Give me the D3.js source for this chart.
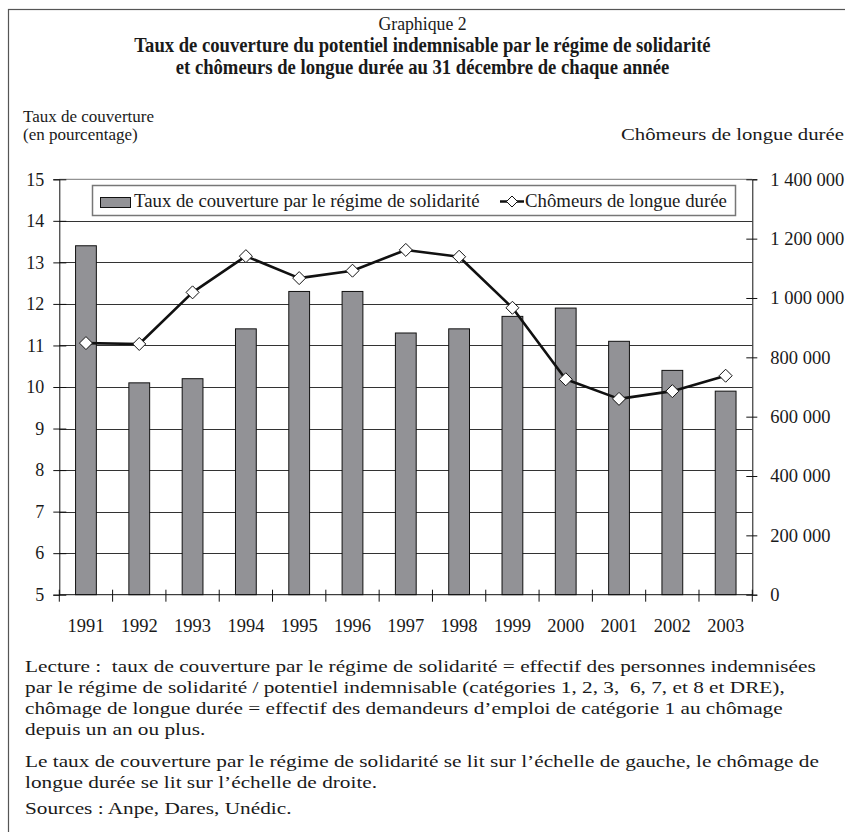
<!DOCTYPE html>
<html>
<head>
<meta charset="utf-8">
<script src="https://cdn.jsdelivr.net/npm/d3@7"></script>
<style>
  html, body { margin: 0; padding: 0; background: #fff; }
  svg { display: block; font-family: "Liberation Serif", "Times New Roman", serif; }
  text { font-family: "Liberation Serif", "Times New Roman", serif; fill: #1a1a1a; }
</style>
</head>
<body>
<svg id="chart" width="845" height="832" font-family="Liberation Serif, serif"></svg>
<script>
const years = ["1991","1992","1993","1994","1995","1996","1997","1998","1999","2000","2001","2002","2003"];
const tauxCouverture = [13.4, 10.1, 10.2, 11.4, 12.3, 12.3, 11.3, 11.4, 11.7, 11.9, 11.1, 10.4, 9.9];
const chomeursLongueDuree = [848000, 845000, 1019000, 1141000, 1067000, 1092000, 1162000, 1139000, 967000, 726000, 660000, 686000, 738000];
const leftTicks = [5, 6, 7, 8, 9, 10, 11, 12, 13, 14, 15];
const rightTicks = [0, 200000, 400000, 600000, 800000, 1000000, 1200000, 1400000];
const titleTop = "Graphique 2";
const titleLines = ["Taux de couverture du potentiel indemnisable par le régime de solidarité",
                    "et chômeurs de longue durée au 31 décembre de chaque année"];
const leftAxisTitle = ["Taux de couverture", "(en pourcentage)"];
const rightAxisTitle = "Chômeurs de longue durée";
const legendLabels = ["Taux de couverture par le régime de solidarité", "Chômeurs de longue durée"];
const notes = [
  "Lecture :  taux de couverture par le régime de solidarité = effectif des personnes indemnisées",
  "par le régime de solidarité / potentiel indemnisable (catégories 1, 2, 3,  6, 7, et 8 et DRE),",
  "chômage de longue durée = effectif des demandeurs d’emploi de catégorie 1 au chômage",
  "depuis un an ou plus.",
  "Le taux de couverture par le régime de solidarité se lit sur l’échelle de gauche, le chômage de",
  "longue durée se lit sur l’échelle de droite.",
  "Sources : Anpe, Dares, Unédic."
];

const FONT = "Liberation Serif, Times New Roman, serif";
const svg = d3.select("#chart");
const W = 845;
const txt = (sel) => sel.attr("font-family", FONT).attr("fill", "#1a1a1a");

// outer frame (right & bottom edges fall outside the picture)
svg.append("rect").attr("x", 8.5).attr("y", 9.5).attr("width", 900).attr("height", 900)
  .attr("fill", "none").attr("stroke", "#555").attr("stroke-width", 1.2);

// titles (slightly condensed glyphs, as in the reference)
const tg = svg.append("g").attr("transform", `translate(${W/2},0) scale(0.91,1)`);
tg.append("text").attr("x", 0).attr("y", 30).attr("text-anchor", "middle")
  .attr("font-size", 19.5).call(txt).text(titleTop);
titleLines.forEach((t, i) => {
  tg.append("text").attr("x", 0).attr("y", 52 + i*22).attr("text-anchor", "middle")
    .attr("font-size", 20.5).attr("font-weight", "bold").call(txt).text(t);
});

// axis titles
leftAxisTitle.forEach((t, i) => {
  svg.append("text").attr("x", 23).attr("y", 122 + i*18).attr("font-size", 17).call(txt).text(t);
});
svg.append("g").attr("transform", "translate(621,0) scale(1.2,1)")
  .append("text").attr("x", 0).attr("y", 140).attr("font-size", 17.3).call(txt).text(rightAxisTitle);

// scales
const x0 = 59.3, x1 = 752.3, yTop = 179.3, yBot = 594.7;
const x = d3.scaleBand().domain(years).range([x0, x1]).padding(0);
const yL = d3.scaleLinear().domain([5, 15]).range([yBot, yTop]);
const yR = d3.scaleLinear().domain([0, 1400000]).range([yBot, yTop]);

const g = svg.append("g");

// top border of plot
g.append("line").attr("x1", x0).attr("x2", x1).attr("y1", yTop).attr("y2", yTop)
  .attr("stroke", "#777").attr("stroke-width", 1);

// gridlines
g.selectAll("line.grid").data(leftTicks.filter(d => d > 5 && d < 15)).join("line")
  .attr("class", "grid")
  .attr("x1", x0).attr("x2", x1)
  .attr("y1", d => Math.round(yL(d)) + 0.5).attr("y2", d => Math.round(yL(d)) + 0.5)
  .attr("stroke", "#333").attr("stroke-width", 1);

// bars
const bw = x.bandwidth() * 0.39;
g.selectAll("rect.bar").data(years).join("rect")
  .attr("class", "bar")
  .attr("x", (d) => x(d) + (x.bandwidth() - bw) / 2)
  .attr("y", (d, i) => yL(tauxCouverture[i]))
  .attr("width", bw)
  .attr("height", (d, i) => yBot - yL(tauxCouverture[i]))
  .attr("fill", "#929296").attr("stroke", "#111").attr("stroke-width", 1);

// left axis
const leftAxis = d3.axisLeft(yL).tickValues(leftTicks).tickSize(6).tickPadding(9).tickFormat(d3.format("d"));
const la = g.append("g").attr("transform", `translate(${x0},0)`).call(leftAxis).attr("font-family", FONT);
la.select(".domain").attr("stroke", "#111");
la.selectAll(".tick line").attr("x2", -6).attr("x1", 7).attr("stroke", "#111");
la.selectAll(".tick text").attr("font-size", 18).call(txt).attr("x", -15);

// right axis
const fmtSpace = d => d3.format(",")(d).replace(/,/g, " ");
const rightAxis = d3.axisRight(yR).tickValues(rightTicks).tickSize(5).tickFormat(fmtSpace);
const ra = g.append("g").attr("transform", `translate(${x1},0)`).call(rightAxis).attr("font-family", FONT);
ra.select(".domain").attr("stroke", "#111");
ra.selectAll(".tick line").attr("x1", -6).attr("x2", 5).attr("stroke", "#111");
ra.selectAll(".tick text").attr("font-size", 18.5).call(txt).attr("x", 18);

// bottom axis
const bottomAxis = d3.axisBottom(x).tickSize(0).tickPadding(0);
const ba = g.append("g").attr("transform", `translate(0,${yBot})`).call(bottomAxis).attr("font-family", FONT);
ba.select(".domain").remove();
ba.selectAll(".tick text").attr("font-size", 18.5).call(txt)
  .attr("dy", null).attr("y", 37);
g.append("line").attr("x1", x0).attr("x2", x1).attr("y1", yBot).attr("y2", yBot).attr("stroke", "#111");
const bounds = years.map(d => x(d)).concat([x1]);
g.selectAll("line.xtick").data(bounds).join("line").attr("class", "xtick")
  .attr("x1", d => d).attr("x2", d => d).attr("y1", yBot - 5).attr("y2", yBot + 7)
  .attr("stroke", "#111");

// line series
const cx = d => x(d) + x.bandwidth() / 2;
const lineGen = d3.line().x((d, i) => cx(years[i])).y(d => yR(d));
g.append("path").datum(chomeursLongueDuree).attr("d", lineGen)
  .attr("fill", "none").attr("stroke", "#111").attr("stroke-width", 2.6).attr("stroke-linejoin", "round");
const diamond = (s) => `M0,${-s}L${s},0L0,${s}L${-s},0Z`;
g.selectAll("path.mk").data(chomeursLongueDuree).join("path").attr("class", "mk")
  .attr("transform", (d, i) => `translate(${cx(years[i])},${yR(d)})`)
  .attr("d", diamond(6.5)).attr("fill", "#fff").attr("stroke", "#111").attr("stroke-width", 1);

// legend
const lg = svg.append("g");
lg.append("rect").attr("x", 92.5).attr("y", 185.5).attr("width", 643).attr("height", 30)
  .attr("fill", "#fff").attr("stroke", "#777").attr("stroke-width", 1.5);
lg.append("rect").attr("x", 100.5).attr("y", 197.5).attr("width", 30).attr("height", 10)
  .attr("fill", "#929296").attr("stroke", "#111").attr("stroke-width", 1);
lg.append("text").attr("x", 134).attr("y", 207).attr("font-size", 18.8).call(txt).text(legendLabels[0]);
lg.append("line").attr("x1", 500).attr("x2", 524).attr("y1", 201.5).attr("y2", 201.5)
  .attr("stroke", "#111").attr("stroke-width", 2.5);
lg.append("path").attr("transform", "translate(512,201.5)").attr("d", diamond(5.5))
  .attr("fill", "#fff").attr("stroke", "#111").attr("stroke-width", 1);
lg.append("text").attr("x", 525).attr("y", 207).attr("font-size", 18.8).call(txt).text(legendLabels[1]);

// notes (glyphs slightly widened, as in the reference)
const noteY = [672, 693, 714, 735, 767, 788, 814];
const ng = svg.append("g").attr("transform", "translate(25,0) scale(1.21,1)");
notes.forEach((t, i) => {
  ng.append("text").attr("x", 0).attr("y", noteY[i]).attr("font-size", 17.6).call(txt)
    .attr("xml:space", "preserve").style("white-space", "pre").text(t);
});
</script>
</body>
</html>
